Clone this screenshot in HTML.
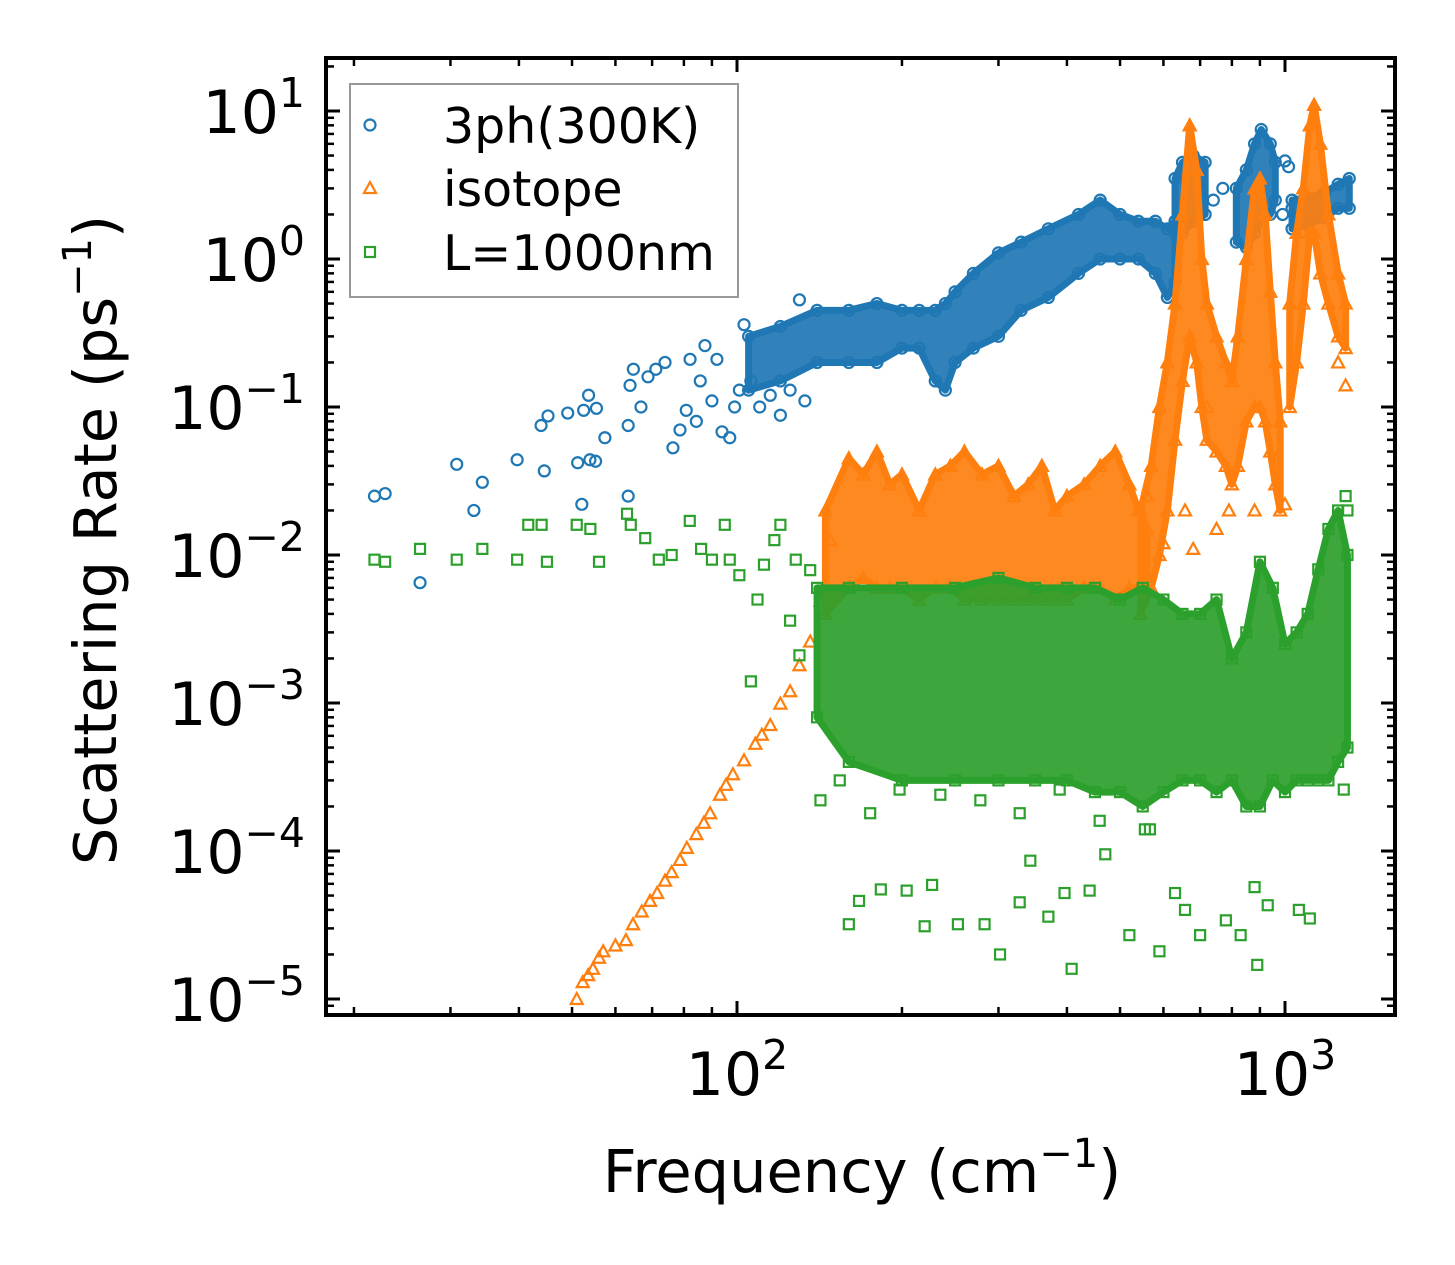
<!DOCTYPE html>
<html><head><meta charset="utf-8"><style>
html,body{margin:0;padding:0;background:#fff;}
svg{display:block;font-family:"DejaVu Sans","Liberation Sans",sans-serif;}
</style></head><body>
<svg id="chart" width="1455" height="1265" viewBox="0 0 1455 1265" xmlns="http://www.w3.org/2000/svg">
<rect width="1455" height="1265" fill="#fff"/>
<defs><clipPath id="plotclip"><rect x="326" y="58" width="1069" height="957"/></clipPath></defs>
<g id="bands" clip-path="url(#plotclip)"></g>
<g id="axes"></g>
<text x="862" y="1192" font-size="59" text-anchor="middle">Frequency (cm<tspan dy="-25" font-size="40">−1</tspan><tspan dy="25">)</tspan></text>
<text transform="translate(116,540) rotate(-90)" font-size="59" text-anchor="middle">Scattering Rate (ps<tspan dy="-25" font-size="40">−1</tspan><tspan dy="25">)</tspan></text>
<g>
<rect x="350" y="84" width="388" height="213" fill="#fff" fill-opacity="0.8" stroke="#999" stroke-width="2"/>
<circle cx="370" cy="125" r="5.5" fill="none" stroke="#1f77b4" stroke-width="2.2"/>
<text x="443" y="143" font-size="49">3ph(300K)</text>
<polygon points="370,182 364,193 376,193" fill="none" stroke="#ff7f0e" stroke-width="2.2"/>
<text x="443" y="206" font-size="49">isotope</text>
<rect x="365" y="247" width="10" height="10" fill="none" stroke="#2ca02c" stroke-width="2.2"/>
<text x="443" y="270" font-size="49">L=1000nm</text>
</g>
</svg>
<script>
// ---- data ----
const blueFreq=[21.8,22.8,26.4,30.8,33.1,34.3,39.7,44.5,43.9,45.2,49.1,51.2,53.9,55.2,52.1,52.5,53.6,55.4,57.4,63.3,63.3,63.8,64.7,66.8,68.8,71.1,73.9,76.4,78.7,80.8,82.1,84.3,85.7,87.4,90,91.9,93.9,97,99,101,103,106,110,115,120,125,130,133,1000,1015,1030,740,770,990];
const blueRate=[0.025,0.026,0.0065,0.041,0.020,0.031,0.044,0.037,0.075,0.087,0.091,0.042,0.044,0.043,0.022,0.095,0.12,0.098,0.062,0.025,0.075,0.14,0.18,0.10,0.16,0.18,0.20,0.053,0.070,0.095,0.21,0.08,0.15,0.26,0.11,0.21,0.068,0.062,0.10,0.13,0.36,0.15,0.10,0.12,0.088,0.13,0.53,0.11,4.6,4.2,2.2,2.5,3.0,2.0];
const blueBandFreq=[[105,120,140,160,180,200,215,230,240,250,270,300,330,370,420,460,500,540,580,610,630],[630,650,680,715],[815,850,880,905,940,960],[1030,1100,1180,1250,1310]];
const blueBandLo=[[0.13,0.15,0.2,0.2,0.2,0.25,0.25,0.15,0.13,0.2,0.25,0.3,0.45,0.55,0.8,1.0,1.0,1.0,0.8,0.55,0.7],[1.5,1.5,1.8,2],[1.3,1.2,1.5,1.8,2,2.5],[1.6,1.7,1.9,2.2,2.2]];
const blueBandHi=[[0.3,0.35,0.45,0.45,0.5,0.45,0.45,0.45,0.5,0.6,0.8,1.1,1.3,1.6,2.0,2.5,2.0,1.8,1.8,1.6,1.8],[3.5,4.5,5,4.5],[3,4,6,7.5,6,4.5],[2.5,2.6,2.8,3.2,3.5]];

const orangeFreq=[51,52.3,53.5,54.6,56,57,60,62.7,64.6,67,69.4,71.5,73.9,76,78.7,81,84.3,87,89.3,93.1,95.5,98.3,103,108,111,115,120,125,130,136,142,148,657,680,750,790,880,1000,1250,1290,560,600,720];
const orangeRate=[1e-5,1.3e-5,1.45e-5,1.6e-5,1.9e-5,2.1e-5,2.3e-5,2.5e-5,3.2e-5,3.9e-5,4.6e-5,5.2e-5,6.3e-5,7.2e-5,8.7e-5,1.05e-4,1.3e-4,1.55e-4,1.8e-4,2.4e-4,2.8e-4,3.3e-4,4.1e-4,5.3e-4,6.1e-4,7.1e-4,9.9e-4,1.2e-3,1.8e-3,2.6e-3,4.9e-3,0.0126,0.02,0.011,0.015,0.02,0.02,0.022,0.2,0.14,0.025,0.012,0.1];
const orangeBandFreq=[[145,160,170,180,190,200,215,230,245,260,280,300,320,340,360,380,400,430,460,490,520,540,560],[545,570,590,610,630,650,670,690,705,720,750,780,800,820,850,880,900,920,940,960,980],[1020,1050,1080,1110,1130,1160,1200,1250,1290]];
const orangeBandLo=[[0.004,0.006,0.007,0.006,0.006,0.006,0.005,0.006,0.006,0.005,0.005,0.005,0.005,0.005,0.005,0.005,0.005,0.006,0.006,0.005,0.006,0.006,0.006],[0.004,0.006,0.01,0.02,0.06,0.15,0.3,0.2,0.1,0.06,0.05,0.04,0.03,0.04,0.08,0.1,0.1,0.08,0.05,0.03,0.02],[0.1,0.2,0.5,1.5,1.5,0.8,0.5,0.3,0.25]];
const orangeBandHi=[[0.02,0.045,0.035,0.05,0.03,0.035,0.02,0.035,0.04,0.05,0.035,0.04,0.025,0.03,0.04,0.02,0.025,0.03,0.04,0.05,0.03,0.02,0.015],[0.02,0.04,0.1,0.2,0.5,2,8,4,1,0.5,0.3,0.2,0.15,0.3,1,3,3.5,2,0.6,0.2,0.08],[0.5,1.5,3,8,11,6,2,0.8,0.5]];

const greenFreq=[21.8,22.8,26.4,30.8,34.3,39.7,41.6,44,45,51,54,56,63,64,68,72,76,82,86,90,95,97,101,106,109,112,117,120,125,128,130,136,160,167,183,204,220,227,253,283,302,328,343,370,396,408,440,470,520,555,590,630,657,700,780,830,880,890,930,1060,1110,1280,142,154,175,198,235,278,328,388,459,567,1290,1300];
const greenRate=[0.0093,0.009,0.011,0.0093,0.011,0.0093,0.016,0.016,0.009,0.016,0.015,0.009,0.019,0.016,0.013,0.0093,0.01,0.017,0.011,0.0093,0.016,0.0093,0.0073,0.0014,0.005,0.0086,0.0126,0.016,0.0036,0.0093,0.0021,0.0079,3.2e-5,4.6e-5,5.5e-5,5.4e-5,3.1e-5,5.9e-5,3.2e-5,3.2e-5,2e-5,4.5e-5,8.6e-5,3.6e-5,5.2e-5,1.6e-5,5.4e-5,9.5e-5,2.7e-5,1.4e-4,2.1e-5,5.2e-5,4e-5,2.7e-5,3.4e-5,2.7e-5,5.7e-5,1.7e-5,4.3e-5,4e-5,3.5e-5,2.6e-4,2.2e-4,3e-4,1.8e-4,2.6e-4,2.4e-4,2.2e-4,1.8e-4,2.6e-4,1.6e-4,1.4e-4,0.025,0.02];
const greenBandFreq=[[140,160,200,250,300,350,400,450,500,550,600,650,700,750,800,850,900,950,1000,1050,1100,1150,1200,1250,1300]];
const greenBandLo=[[8e-4,4e-4,3e-4,3e-4,3e-4,3e-4,3e-4,2.5e-4,2.5e-4,2e-4,2.5e-4,3e-4,3e-4,2.5e-4,3e-4,2e-4,2e-4,3e-4,2.5e-4,3e-4,3e-4,3e-4,3e-4,4e-4,5e-4]];
const greenBandHi=[[6e-3,6e-3,6e-3,6e-3,7e-3,6e-3,6e-3,6e-3,5e-3,6e-3,5e-3,4e-3,4e-3,5e-3,2e-3,3e-3,9e-3,6e-3,2.5e-3,3e-3,4e-3,8e-3,0.015,0.02,0.01]];

const yTickExps=[-5,-4,-3,-2,-1,0,1];
const xTickExps=[2,3];

// ---- scales ----
const X=f=>737+548*(Math.log10(f)-2);
const Y=r=>259-148*Math.log10(r);
const NS="http://www.w3.org/2000/svg";
const bandsG=document.getElementById('bands');
const axesG=document.getElementById('axes');
function mk(tag,attrs,parent){const e=document.createElementNS(NS,tag);for(const k in attrs)e.setAttribute(k,attrs[k]);parent.appendChild(e);return e;}

function drawBands(fr,lo,hi,color,name){
  fr.forEach((f,i)=>{
    const top=f.map((v,j)=>X(v)+','+Y(hi[i][j])).join(' ');
    const bot=f.slice().reverse().map((v,j)=>X(v)+','+Y(lo[i][f.length-1-j])).join(' ');
    const p=mk('polygon',{points:top+' '+bot,fill:color,'fill-opacity':'0.92',stroke:color,'stroke-width':'7','stroke-linejoin':'round'},bandsG);
    
    
  });
}
function marker(kind,x,y,color){
  let e;
  if(kind==='c') e=mk('circle',{cx:x,cy:y,r:5.5,fill:'none',stroke:color,'stroke-width':2.2},bandsG);
  else if(kind==='t') e=mk('polygon',{points:`${x},${y-6} ${x-6},${y+5} ${x+6},${y+5}`,fill:'none',stroke:color,'stroke-width':2.2},bandsG);
  else e=mk('rect',{x:x-5,y:y-5,width:10,height:10,fill:'none',stroke:color,'stroke-width':2.2},bandsG);
  return e;
}
function drawPoints(fr,rt,kind,color,name){
  fr.forEach((f,i)=>{
    const e=marker(kind,X(f),Y(rt[i]),color);
    
    
  });
}
function drawBandEdges(fr,lo,hi,kind,color,name){
  fr.forEach((f,i)=>f.forEach((v,j)=>{
    [lo[i][j],hi[i][j]].forEach(r=>{
      const e=marker(kind,X(v),Y(r),color);
      
      
    });
  }));
}
drawBands(blueBandFreq,blueBandLo,blueBandHi,'#1f77b4','3ph');
drawBandEdges(blueBandFreq,blueBandLo,blueBandHi,'c','#1f77b4','3ph');
drawPoints(blueFreq,blueRate,'c','#1f77b4','3ph');
drawBands(orangeBandFreq,orangeBandLo,orangeBandHi,'#ff7f0e','isotope');
drawBandEdges(orangeBandFreq,orangeBandLo,orangeBandHi,'t','#ff7f0e','isotope');
drawPoints(orangeFreq,orangeRate,'t','#ff7f0e','isotope');
drawBands(greenBandFreq,greenBandLo,greenBandHi,'#2ca02c','boundary');
drawBandEdges(greenBandFreq,greenBandLo,greenBandHi,'s','#2ca02c','boundary');
drawPoints(greenFreq,greenRate,'s','#2ca02c','boundary');

// ---- axes ----
const L=326,R=1395,T=58,B=1015;
const frame=mk('rect',{x:L,y:T,width:R-L,height:B-T,fill:'none',stroke:'#000','stroke-width':4},axesG);


function tick(x1,y1,x2,y2,w){mk('line',{x1,y1,x2,y2,stroke:'#000','stroke-width':w},axesG);}
for(let d=-6;d<=2;d++){for(let k=1;k<=9;k++){const y=Y(k*Math.pow(10,d));if(y<T+2||y>B-2)continue;const len=k===1?14:8;tick(L,y,L+len,y,k===1?3:2.5);tick(R,y,R-len,y,k===1?3:2.5);}}
for(let d=1;d<=3;d++){for(let k=1;k<=9;k++){const x=X(k*Math.pow(10,d));if(x<L+2||x>R-2)continue;const len=k===1?14:8;tick(x,B,x,B-len,k===1?3:2.5);tick(x,T,x,T+len,k===1?3:2.5);}}
yTickExps.forEach(e=>{
  const t=mk('text',{x:305,y:Y(Math.pow(10,e))+22,'font-size':60,'text-anchor':'end'},axesG);
  
  
  t.innerHTML='10<tspan dy="-26" font-size="41">'+(e<0?'−'+(-e):e)+'</tspan>';
});
xTickExps.forEach(e=>{
  const t=mk('text',{x:X(Math.pow(10,e)),y:1095,'font-size':60,'text-anchor':'middle'},axesG);
  
  
  t.innerHTML='10<tspan dy="-26" font-size="41">'+e+'</tspan>';
});
</script>
</body></html>
